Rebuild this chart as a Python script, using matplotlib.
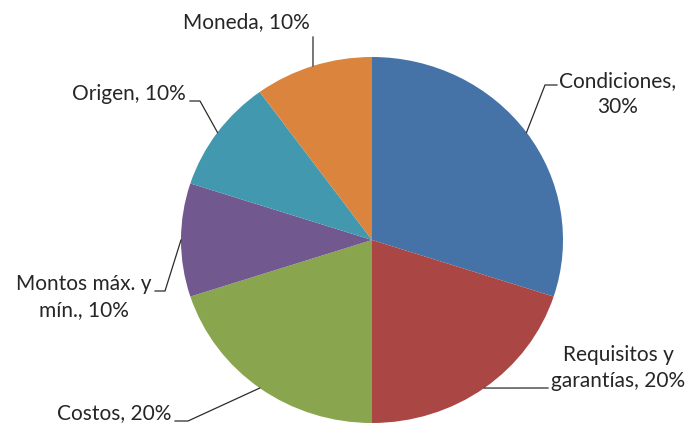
import numpy as np
import matplotlib.pyplot as plt

# Data
labels = ["Condiciones,\n30%", "Requisitos y\ngarantías, 20%", "Costos, 20%",
          "Montos máx. y\nmín., 10%", "Origen, 10%", "Moneda, 10%"]
values = [30, 20, 20, 10, 10, 10]
colors = ["#4572A7", "#AA4643", "#89A54E", "#71588F", "#4198AF", "#DB843D"]

# Layout (pixel coords, origin top-left): label centre and leader line knee points
label_pos = [(618, 94), (618, 368), (114, 413), (84, 297), (129, 94), (246, 22)]
leader_pts = [
    [(557, 85), (545, 85)],
    [(548, 388)],
    [(175, 421), (188, 421)],
    [(155, 291), (165, 291)],
    [(190, 101), (200, 101)],
    [(313, 37)],
]

W, H = 692, 425
fig = plt.figure(figsize=(W / 100, H / 100), dpi=100)

# Pie axes, a bit wider than tall like the original
cx, cy, rx, ry = 372, 240, 191, 183
pie_ax = fig.add_axes([(cx - rx) / W, (H - cy - ry) / H, 2 * rx / W, 2 * ry / H])
wedges, _ = pie_ax.pie(values, colors=colors, startangle=90, counterclock=False,
                       radius=1, wedgeprops=dict(linewidth=0))
pie_ax.set_xlim(-1, 1)
pie_ax.set_ylim(-1, 1)
pie_ax.set_aspect("auto")
pie_ax.axis("off")

# Overlay in pixel coordinates for labels and leader lines
ov = fig.add_axes([0, 0, 1, 1], facecolor="none")
ov.set_xlim(0, W)
ov.set_ylim(H, 0)
ov.axis("off")

to_ov = pie_ax.transData + ov.transData.inverted()
for w, lab, (tx, ty), pts in zip(wedges, labels, label_pos, leader_pts):
    mid = np.deg2rad((w.theta1 + w.theta2) / 2)
    ax_, ay_ = to_ov.transform((np.cos(mid), np.sin(mid)))
    xs = [p[0] for p in pts] + [ax_]
    ys = [p[1] for p in pts] + [ay_]
    ov.plot(xs, ys, color="#2b2b2b", lw=0.9)
    ov.text(tx, ty, lab, ha="center", va="center", fontsize=15,
            family="Lato", color="#262626", linespacing=1.35)

fig.savefig("out.png", dpi=100)
